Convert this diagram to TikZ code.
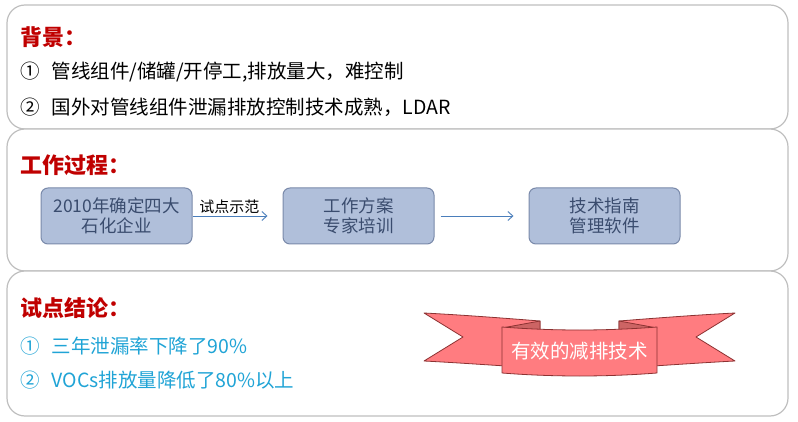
\documentclass[tikz,border=0pt]{standalone}
\usepackage{fontspec}
\setmainfont{Noto Sans CJK SC}
\usepackage{tikz}
\usetikzlibrary{arrows.meta, positioning, backgrounds}
\usepackage{xcolor}

\definecolor{titlered}{RGB}{192,0,0}
\definecolor{panelgray}{RGB}{191,191,191}
\definecolor{itemblue}{RGB}{32,164,214}
\definecolor{procfill}{RGB}{176,191,218}
\definecolor{procdraw}{RGB}{122,138,170}
\definecolor{proctext}{RGB}{58,76,110}
\definecolor{arrowblue}{RGB}{74,126,187}
\definecolor{ribbonfill}{RGB}{255,124,128}
\definecolor{ribbonfold}{RGB}{205,100,100}
\definecolor{ribbondraw}{RGB}{140,50,50}

\begin{document}
\begin{tikzpicture}[x=1pt, y=-1pt, node distance=90pt,
                panel/.style={rectangle, draw=panelgray, fill=white, line width=1.2pt, rounded corners=18pt, minimum width=781pt},
                heading/.style={anchor=west, inner sep=0pt, text=titlered, font=\fontsize{22}{26}\selectfont\bfseries},
                item/.style={anchor=west, inner sep=0pt, font=\fontsize{19.5}{23}\selectfont},
                proc/.style={rectangle, draw=procdraw, fill=procfill, line width=1pt, rounded corners=7pt, minimum width=151pt, minimum height=56pt, align=center, text=proctext, font=\fontsize{17.5}{20.5}\selectfont},
                arrow/.style={-{Straight Barb[length=5pt, width=9pt]}, draw=arrowblue, line width=0.9pt},
                ribbon/.style={fill=ribbonfill, draw=ribbondraw, line width=0.8pt, line join=round}]

            \useasboundingbox (0,0) rectangle (798,422);

            % Panels
            \node[panel, minimum height=124pt] (bgpanel) at (397.5,67) {};
            \node[panel, minimum height=142pt] (workpanel) at (397.5,200) {};
            \node[panel, minimum height=145pt] (resultpanel) at (397.5,343.5) {};

            % Background
            \node[heading] (bgtitle) at (20,37) {背景：};
            \node[item] (bgone) at (20,72) {①\hspace{12pt}管线组件/储罐/开停工,排放量大，难控制};
            \node[item] (bgtwo) at (20,107) {②\hspace{12pt}国外对管线组件泄漏排放控制技术成熟，LDAR};

            % Work process
            \node[heading] (worktitle) at (20,165) {工作过程：};
            \node[proc] (pilot) at (116.5,216) {2010年确定四大\\石化企业};
            \node[proc, right=90pt of pilot] (plan) {工作方案\\专家培训};
            \node[proc, right=94pt of plan] (guide) {技术指南\\管理软件};

            % Results
            \node[heading] (resulttitle) at (20,308) {试点结论：};
            \node[item, text=itemblue] (resone) at (20,346) {①\hspace{12pt}三年泄漏率下降了90\%};
            \node[item, text=itemblue] (restwo) at (20,380) {②\hspace{12pt}VOCs排放量降低了80\%以上};

            % Ribbon
            \draw[ribbon] (424,313) .. controls (463,315) and (502,318) .. (540,321) -- (540,368)
                .. controls (502,366) and (463,363) .. (424,361) -- (463,337) -- cycle;
            \draw[ribbon] (735,313) .. controls (696,315) and (657,318) .. (619,321) -- (619,368)
                .. controls (657,366) and (696,363) .. (735,361) -- (696,337) -- cycle;
            \draw[ribbon, fill=ribbonfold] (502,328) -- (540,321) -- (540,330) -- cycle;
            \draw[ribbon, fill=ribbonfold] (657,328) -- (619,321) -- (619,330) -- cycle;
            \draw[ribbon] (502,327) .. controls (553,331) and (606,331) .. (657,327) -- (657,373)
                .. controls (606,377) and (553,377) .. (502,373) -- cycle;
            \node[text=white, font=\fontsize{19.5}{22}\selectfont] (slogan) at (579.5,351) {有效的减排技术};

            \draw[arrow, shorten >=15pt] (pilot) -- node[above, pos=0.41, text=black, font=\fontsize{15}{17}\selectfont, inner sep=2pt] {试点示范} (plan);
            \draw[arrow, shorten <=6pt, shorten >=15pt] (plan) -- (guide);

        \end{tikzpicture}
\end{document}
